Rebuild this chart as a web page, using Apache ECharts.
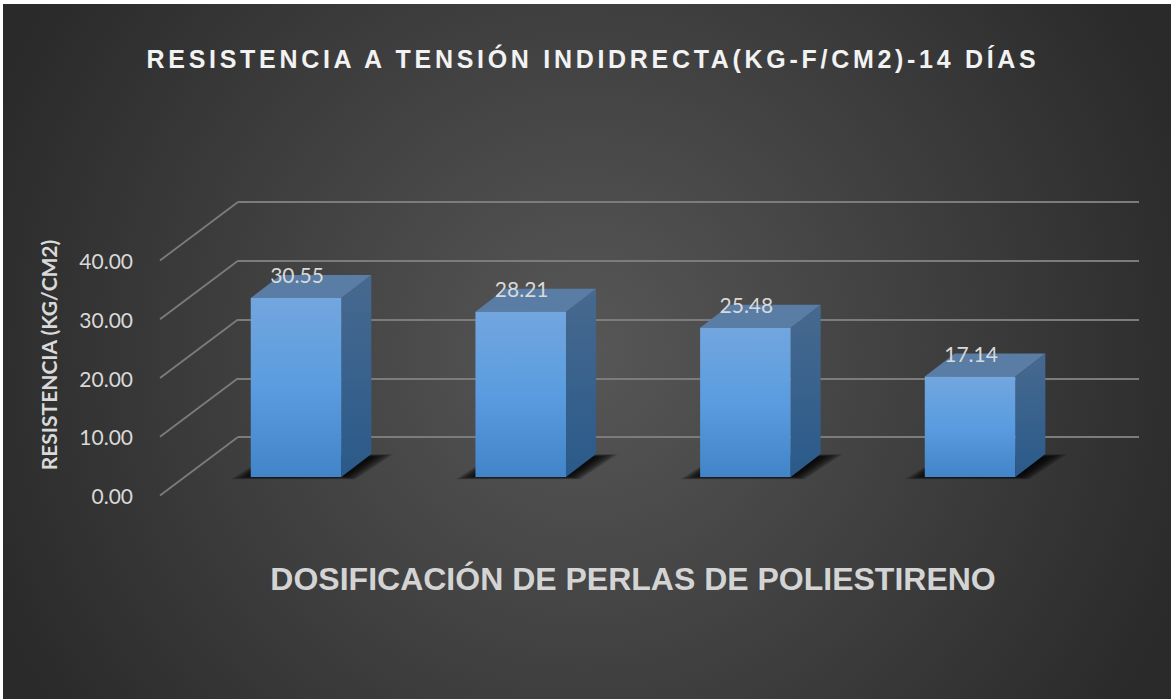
<!DOCTYPE html>
<html>
<head>
<meta charset="utf-8">
<style>html,body{margin:0;padding:0;background:#fff}#c{width:1171px;height:699px}</style>
<script src="https://cdn.jsdelivr.net/npm/echarts@6/dist/echarts.min.js"></script>
</head>
<body>
<div id="c"></div>
<script>
const titleText = 'RESISTENCIA A TENSIÓN INDIDRECTA(KG-F/CM2)-14 DÍAS';
const xName = 'DOSIFICACIÓN DE PERLAS DE POLIESTIRENO';
const yName = 'RESISTENCIA (KG/CM2)';
const categories = ['A', 'B', 'C', 'D'];
const values = [30.55, 28.21, 25.48, 17.14];
const yTicks = [0, 10, 20, 30, 40];

const DX = 30, DY = -23, WALL_DX = 78, WALL_DY = -58.5;
const chart = echarts.init(document.getElementById('c'), null, {renderer: 'svg'});
const lin = (a, b, c) => ({type: 'linear', x: 0, y: 0, x2: 0, y2: 1, colorStops: c ?
  [{offset: 0, color: a}, {offset: .5, color: c}, {offset: 1, color: b}] :
  [{offset: 0, color: a}, {offset: 1, color: b}]});

function renderBar(params, api) {
  const i = api.value(0), v = api.value(1);
  const top = api.coord([i, v]), base = api.coord([i, 0]);
  const w = api.size([1, 0])[0] * 0.403;
  const l = top[0] - w / 2, r = top[0] + w / 2, t = top[1], b = base[1];
  const poly = (pts, fill) => ({type: 'polygon', shape: {points: pts}, style: {fill}});
  const shadow = [];
  for (let k = 11; k >= 0; k--) {
    const s = k * 2;
    shadow.push(poly([[l + 2 - s, b - 1 + k * 0.3], [r + 3 + s * 0.5, b - 1 + k * 0.3],
      [r + DX + s, b + DY + 3 - k * 0.25], [l + 20, b + DY + 3 - k * 0.25]], 'rgba(0,0,0,0.13)'));
  }
  return {type: 'group', children: shadow.concat([
    poly([[r, t], [r + DX, t + DY], [r + DX, b + DY], [r, b]], lin('#47698f', '#2a5a8a')),
    poly([[l, t], [r, t], [r + DX, t + DY], [l + DX, t + DY]], '#5a7da6'),
    {type: 'rect', shape: {x: l, y: t, width: w, height: b - t}, style: {fill: lin('#72a6df', '#4284c8', '#5a9cdf')}},
    {type: 'text', x: top[0] + 1, y: t - 23, style: {text: v.toFixed(2), fill: '#d9d9d9', font: '21px Lato', align: 'center', verticalAlign: 'middle'}}
  ])};
}
function renderDiag(params, api) {
  const p = api.coord([0, api.value(1)]);
  return {type: 'line', shape: {x1: p[0], y1: p[1], x2: p[0] + WALL_DX, y2: p[1] + WALL_DY},
    style: {stroke: '#7c7c7c', lineWidth: 1.8}};
}

chart.setOption({
  animation: false,
  backgroundColor: '#ffffff',
  title: {text: titleText, left: 588, top: 41, textAlign: 'center',
    textStyle: {color: '#f2f2f2', fontFamily: 'Liberation Sans', fontWeight: 'bold', fontSize: 25}},
  graphic: [
    {type: 'rect', z: -10, zlevel: 0, silent: true, shape: {x: 3, y: 4, width: 1168, height: 695},
      style: {fill: {type: 'radial', x: 585, y: 350, r: 640, global: true,
        colorStops: [{offset: 0, color: '#575757'}, {offset: 1, color: '#2a2a2a'}]}}},
    {type: 'text', x: 48, y: 355, rotation: Math.PI / 2, silent: true,
      style: {text: yName, fill: '#d9d9d9', font: 'bold 21px Lato', align: 'center', verticalAlign: 'middle'}}
  ],
  grid: [
    {left: 238, width: 901, top: 202, height: 235},
    {left: 160, width: 100, top: 260.5, height: 235},
    {left: 183.7, width: 898.7, top: 242.6, height: 234.4}
  ],
  xAxis: [
    {gridIndex: 0, type: 'value', min: 0, max: 1, show: false},
    {gridIndex: 1, type: 'value', min: 0, max: 1, show: false},
    {gridIndex: 2, type: 'category', data: categories, axisLine: {show: false}, axisTick: {show: false}, axisLabel: {show: false},
      name: xName, nameLocation: 'middle', nameGap: 86,
      nameTextStyle: {color: '#d4d4d4', fontFamily: 'Liberation Sans', fontWeight: 'bold', fontSize: 32}}
  ],
  yAxis: [
    {gridIndex: 0, type: 'value', min: 0, max: 40, interval: 10, axisLabel: {show: false}, axisLine: {show: false}, axisTick: {show: false},
      splitLine: {lineStyle: {color: '#7c7c7c', width: 1.8}}},
    {gridIndex: 1, type: 'value', min: 0, max: 40, interval: 10, axisLine: {show: false}, axisTick: {show: false}, splitLine: {show: false},
      axisLabel: {color: '#d9d9d9', fontFamily: 'Lato', fontSize: 21, margin: 27, padding: [3, 0, 0, 0], formatter: v => v.toFixed(2)}},
    {gridIndex: 2, type: 'value', min: 0, max: 40, interval: 10, show: false}
  ],
  series: [
    {type: 'custom', xAxisIndex: 1, yAxisIndex: 1, renderItem: renderDiag, silent: true, clip: false, z: 1,
      data: yTicks.map(v => [0, v])},
    {type: 'custom', xAxisIndex: 2, yAxisIndex: 2, renderItem: renderBar, silent: true, clip: false, z: 5,
      data: values.map((v, i) => [i, v])}
  ]
});
function spacing() {
  document.querySelectorAll('#c svg text').forEach(t => {
    if (t.textContent === titleText) t.style.letterSpacing = '3.7px';
  });
}
chart.on('finished', spacing);
spacing();
</script>
</body>
</html>
